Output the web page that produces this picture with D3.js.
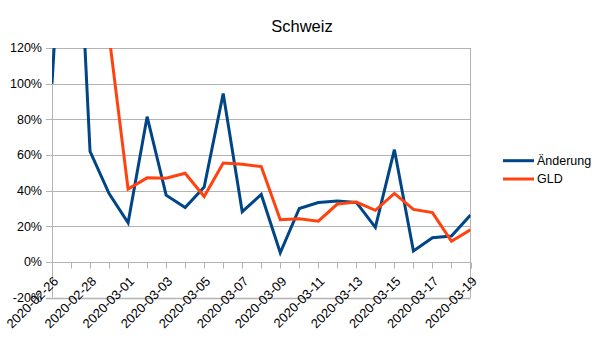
<!DOCTYPE html>
<html>
<head>
<meta charset="utf-8">
<script src="https://cdn.jsdelivr.net/npm/d3@7/dist/d3.min.js"></script>
<style>
  html, body { margin: 0; padding: 0; background: #fff; }
  svg { display: block; font-family: "Liberation Sans", Arial, sans-serif; }
</style>
</head>
<body>
<svg id="chart" width="605" height="340"></svg>
<script>
// Daily dates of the series
const dates = [
  "2020-02-26", "2020-02-27", "2020-02-28", "2020-02-29", "2020-03-01",
  "2020-03-02", "2020-03-03", "2020-03-04", "2020-03-05", "2020-03-06",
  "2020-03-07", "2020-03-08", "2020-03-09", "2020-03-10", "2020-03-11",
  "2020-03-12", "2020-03-13", "2020-03-14", "2020-03-15", "2020-03-16",
  "2020-03-17", "2020-03-18", "2020-03-19"
];
// Daily change in percent
const aenderung = [100, 280, 62, 38.4, 22, 81.5, 37.5, 30.6, 42, 94.5, 28.2, 37.9,
  5.2, 30, 33.4, 34.2, 33.4, 19.4, 63, 6.2, 13.6, 14.6, 26.3];
// Moving average (GLD) in percent
const gld = [null, null, 147, 127, 40.9, 47.2, 47, 49.8, 36.7, 55.5, 54.8, 53.5,
  23.7, 24.2, 22.9, 32.5, 33.6, 29, 38.5, 29.5, 27.7, 11.6, 18.1];
const yTicks = [-20, 0, 20, 40, 60, 80, 100, 120];
const seriesNames = ["Änderung", "GLD"];
const colors = ["#004586", "#ff420e"];

const svg = d3.select("#chart");
const plotLeft = 52, plotRight = 470.5, plotTop = 48, plotBottom = 297.7;

const x = d3.scalePoint().domain(dates).range([plotLeft, plotRight]);
const y = d3.scaleLinear().domain([-20, 120]).range([plotBottom, plotTop]);

// Title
svg.append("text")
  .attr("x", 302).attr("y", 32)
  .attr("text-anchor", "middle")
  .attr("font-size", "16.5px")
  .attr("fill", "#000")
  .text("Schweiz");

// Horizontal grid lines with small outer ticks on the left
const grid = svg.append("g");
grid.selectAll("line")
  .data(yTicks)
  .join("line")
  .attr("x1", plotLeft - 6).attr("x2", plotRight)
  .attr("y1", d => Math.round(y(d)) + 0.5).attr("y2", d => Math.round(y(d)) + 0.5)
  .attr("stroke", "#b3b3b3")
  .attr("stroke-width", d => d === -20 ? 1.6 : 1);

// Left axis line and right wall border
svg.append("line")
  .attr("x1", plotLeft + 0.5).attr("x2", plotLeft + 0.5)
  .attr("y1", y(120)).attr("y2", y(-20))
  .attr("stroke", "#b3b3b3");
svg.append("line")
  .attr("x1", plotRight).attr("x2", plotRight)
  .attr("y1", y(120)).attr("y2", y(-20))
  .attr("stroke", "#b3b3b3");

// Y tick labels
svg.append("g").selectAll("text")
  .data(yTicks)
  .join("text")
  .attr("x", 42).attr("y", d => y(d))
  .attr("dy", "0.35em")
  .attr("text-anchor", "end")
  .attr("font-size", "12.5px")
  .attr("fill", "#000")
  .text(d => d + "%");

// Category ticks along the zero line
const y0 = Math.round(y(0)) + 0.5;
svg.append("g").selectAll("line")
  .data(dates)
  .join("line")
  .attr("x1", d => Math.round(x(d)) + 0.5).attr("x2", d => Math.round(x(d)) + 0.5)
  .attr("y1", y0).attr("y2", y0 + 6)
  .attr("stroke", "#b3b3b3");

// Rotated date labels, every second day
svg.append("g").selectAll("g")
  .data(dates.filter((d, i) => i % 2 === 0))
  .join("g")
  .attr("transform", d => `translate(${x(d) + 0.5},275.5) rotate(-45)`)
  .append("text")
  .attr("dy", "0.71em")
  .attr("text-anchor", "end")
  .attr("font-size", "13px")
  .attr("fill", "#000")
  .text(d => d);

// Clip the series to the plot area
svg.append("defs").append("clipPath").attr("id", "plot")
  .append("rect")
  .attr("x", plotLeft).attr("y", plotTop)
  .attr("width", plotRight - plotLeft).attr("height", plotBottom - plotTop);

const line = d3.line()
  .defined(d => d.v !== null)
  .x(d => x(d.date))
  .y(d => y(d.v));

const series = [aenderung, gld];
const plot = svg.append("g").attr("clip-path", "url(#plot)");
series.forEach((vals, k) => {
  plot.append("path")
    .datum(vals.map((v, i) => ({ date: dates[i], v })))
    .attr("d", line)
    .attr("fill", "none")
    .attr("stroke", colors[k])
    .attr("stroke-width", 3)
    .attr("stroke-linejoin", "miter");
});

// Legend
const legend = svg.append("g");
const legendY = [160.7, 179];
seriesNames.forEach((name, k) => {
  legend.append("line")
    .attr("x1", 503).attr("x2", 534)
    .attr("y1", legendY[k]).attr("y2", legendY[k])
    .attr("stroke", colors[k])
    .attr("stroke-width", 3);
  legend.append("text")
    .attr("x", 537).attr("y", legendY[k])
    .attr("dy", "0.35em")
    .attr("font-size", "12.5px")
    .attr("fill", "#000")
    .text(name);
});
</script>
</body>
</html>
